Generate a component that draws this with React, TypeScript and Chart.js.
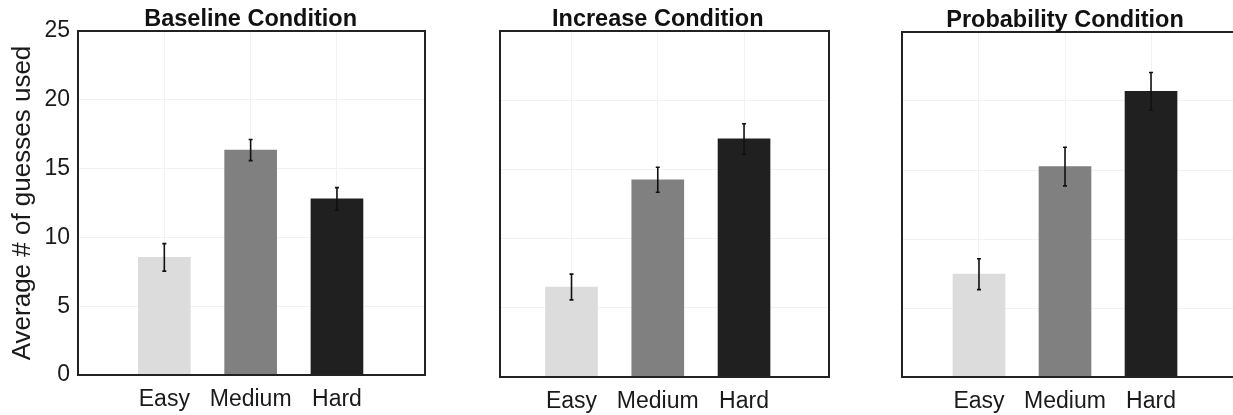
import { useEffect, useRef } from "react";
import { Chart, registerables } from "chart.js";

Chart.register(...registerables);

// ---------- data ----------
const categories = ["Easy", "Medium", "Hard"];
const panelTitles = ["Baseline Condition", "Increase Condition", "Probability Condition"];
const baselineMeans = [8.55, 16.35, 12.8];
const baselineErrors = [1.0, 0.77, 0.82];
const increaseMeans = [6.5, 14.25, 17.2];
const increaseErrors = [0.93, 0.9, 1.1];
const probabilityMeans = [7.45, 15.25, 20.7];
const probabilityErrors = [1.12, 1.4, 1.37];
const yTicks = [0, 5, 10, 15, 20, 25];
const yAxisTitle = "Average # of guesses used";

// ---------- styles ----------
const FONT = "'Liberation Sans', Arial, Helvetica, sans-serif";
const barColors = ["#dcdcdc", "#808080", "#202020"];
const TEXT = "#1a1a1a";
const GRID = "#f2f2f2";
const PAGE_H = 415;

type PanelLayout = {
  left: number;
  width: number;
  chartLeft: number;
  chartRight: number;
  chartTop: number;
  chartBottom: number;
  xMin: number;
  xMax: number;
  showY: boolean;
  rightBorder: boolean;
};

const layouts: PanelLayout[] = [
  { left: 0, width: 440, chartLeft: 78, chartRight: 425, chartTop: 31, chartBottom: 375, xMin: 0, xMax: 4.02, showY: true, rightBorder: true },
  { left: 440, width: 400, chartLeft: 500, chartRight: 829, chartTop: 31, chartBottom: 377, xMin: 0.171, xMax: 3.985, showY: false, rightBorder: true },
  { left: 840, width: 393, chartLeft: 902, chartRight: 1233, chartTop: 32, chartBottom: 377, xMin: 0.105, xMax: 3.953, showY: false, rightBorder: false },
];

const panels = [
  { title: panelTitles[0], means: baselineMeans, errors: baselineErrors },
  { title: panelTitles[1], means: increaseMeans, errors: increaseErrors },
  { title: panelTitles[2], means: probabilityMeans, errors: probabilityErrors },
];

function Panel({ index }: { index: number }) {
  const ref = useRef<HTMLCanvasElement | null>(null);
  const lay = layouts[index];
  const panel = panels[index];

  useEffect(() => {
    if (!ref.current) return;

    const errorBars = {
      id: "errorBars",
      afterDatasetsDraw(chart: any) {
        const ctx = chart.ctx;
        const xs = chart.scales.x;
        const ys = chart.scales.y;
        ctx.save();
        ctx.strokeStyle = "#111";
        ctx.lineWidth = 1.6;
        panel.means.forEach((m, i) => {
          const x = xs.getPixelForValue(i + 1);
          const yt = ys.getPixelForValue(m + panel.errors[i]);
          const yb = ys.getPixelForValue(m - panel.errors[i]);
          ctx.beginPath();
          ctx.moveTo(x, yt);
          ctx.lineTo(x, yb);
          ctx.moveTo(x - 2, yt);
          ctx.lineTo(x + 2, yt);
          ctx.moveTo(x - 2, yb);
          ctx.lineTo(x + 2, yb);
          ctx.stroke();
        });
        ctx.restore();
      },
    };

    const frame = {
      id: "frame",
      afterDraw(chart: any) {
        const ctx = chart.ctx;
        const a = chart.chartArea;
        ctx.save();
        ctx.strokeStyle = "#222";
        ctx.lineWidth = 2;
        ctx.beginPath();
        if (lay.rightBorder) {
          ctx.rect(a.left, a.top, a.right - a.left, a.bottom - a.top);
        } else {
          ctx.moveTo(a.right + 2, a.top);
          ctx.lineTo(a.left, a.top);
          ctx.lineTo(a.left, a.bottom);
          ctx.lineTo(a.right + 2, a.bottom);
        }
        ctx.stroke();
        // panel title, centred over the middle category
        const xs = chart.scales.x;
        ctx.fillStyle = "#111";
        ctx.font = `bold 23.5px ${FONT}`;
        ctx.textAlign = "center";
        ctx.textBaseline = "alphabetic";
        ctx.fillText(panel.title, xs.getPixelForValue(2), a.top - 5);
        ctx.restore();
      },
    };

    const chart = new Chart(ref.current, {
      type: "bar",
      data: {
        datasets: [
          {
            data: panel.means.map((v, i) => ({ x: i + 1, y: v })),
            backgroundColor: barColors,
            borderWidth: 0,
            barThickness: 52,
          },
        ],
      },
      options: {
        animation: false,
        responsive: false,
        maintainAspectRatio: false,
        layout: {
          padding: {
            top: lay.chartTop,
            right: lay.left + lay.width - lay.chartRight,
            bottom: 0,
            left: 0,
          },
        },
        plugins: {
          legend: { display: false },
          tooltip: { enabled: false },
          title: { display: false },
        },
        scales: {
          x: {
            type: "linear",
            offset: false,
            min: lay.xMin,
            max: lay.xMax,
            afterBuildTicks: (s: any) => {
              s.ticks = categories.map((_, i) => ({ value: i + 1 }));
            },
            afterFit: (s: any) => {
              s.height = PAGE_H - lay.chartBottom;
            },
            ticks: {
              callback: (v: any) => categories[Math.round(Number(v)) - 1] ?? "",
              font: { family: FONT, size: 23 },
              color: TEXT,
              padding: 11,
              maxRotation: 0,
              autoSkip: false,
            },
            grid: { color: GRID, drawTicks: false, offset: false },
            border: { display: false },
          },
          y: {
            type: "linear",
            min: 0,
            max: 25,
            afterBuildTicks: (s: any) => {
              s.ticks = yTicks.map((v) => ({ value: v }));
            },
            afterFit: (s: any) => {
              s.width = lay.chartLeft - lay.left;
            },
            ticks: {
              display: lay.showY,
              font: { family: FONT, size: 23 },
              color: TEXT,
              padding: 8,
            },
            grid: { color: GRID, drawTicks: false },
            border: { display: false },
            title: {
              display: lay.showY,
              text: yAxisTitle,
              color: TEXT,
              font: { family: FONT, size: 26, lineHeight: 1 },
              padding: { top: 10, bottom: 0 },
            },
          },
        },
      },
      plugins: [errorBars, frame],
    } as any);

    return () => chart.destroy();
  }, [index]);

  return (
    <canvas
      ref={ref}
      width={lay.width}
      height={PAGE_H}
      style={{ position: "absolute", left: lay.left, top: 0, display: "block" }}
    />
  );
}

export default function App() {
  return (
    <div
      style={{
        position: "absolute",
        left: 0,
        top: 0,
        width: 1233,
        height: PAGE_H,
        overflow: "hidden",
        background: "#fff",
      }}
    >
      {panels.map((_, i) => (
        <Panel key={i} index={i} />
      ))}
    </div>
  );
}
